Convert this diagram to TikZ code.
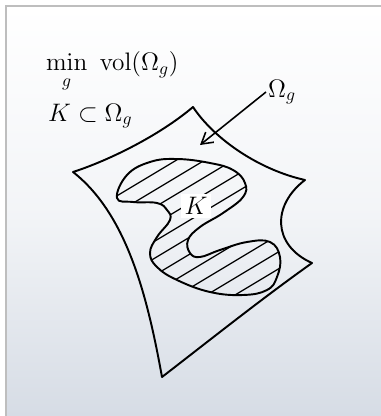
\documentclass[tikz,border=0pt]{standalone}
\usepackage{amsmath, amssymb}
\usepackage{xcolor}
\usepackage{tikz}
\usetikzlibrary{calc, arrows.meta, positioning}

\definecolor{paperlow}{RGB}{214,220,229}
\definecolor{paperframe}{RGB}{190,190,190}

\begin{document}
\begin{tikzpicture}[
    x=0.02cm, y=-0.02cm,
    ink/.style={draw=black, line width=1.1pt, line join=round, line cap=round},
    hatch/.style={draw=black, line width=0.7pt},
    note/.style={font=\Large, inner sep=1pt},
    arrow/.style={draw=black, line width=0.9pt, -{Straight Barb[length=2.2mm, width=2.6mm]}}
]
    % paper
    \useasboundingbox (0,0) rectangle (381,416);
    \shade [top color=white, bottom color=paperlow, middle color=white!70!paperlow] (6,6) rectangle (381,416);
    \draw [paperframe, line width=0.8pt] (381,6) -- (6,6) -- (6,416);

    % the set Omega_g
    \draw [ink] (73,172) .. controls (110,160) and (160,135) .. (193,107)
        .. controls (215,140) and (260,170) .. (305,180)
        .. controls (272,205) and (272,245) .. (312,263)
        .. controls (260,300) and (210,340) .. (162,377)
        .. controls (148,300) and (128,215) .. cycle;

    % the body K
    \def\kshape{plot[smooth cycle, tension=0.7] coordinates {
        (117,198) (127,175) (150,162) (177,159) (210,163) (233,170) (245,183)
        (243,197) (223,213) (200,227) (188,240) (190,253) (200,257) (220,250)
        (247,242) (270,242) (280,257) (277,277) (267,290) (243,295) (210,292)
        (177,280) (157,267) (150,253) (157,237) (170,220) (167,210) (157,203) (133,202)}}
    \begin{scope}
        \clip \kshape;
        \foreach \c in {232,249,...,470}
            \draw [hatch] (100,\c-60) -- (300,\c-180);
    \end{scope}
    \draw [ink] \kshape;
    \node [note, fill=white, inner sep=2pt] (body) at (196,206) {$K$};

    % labels
    \node [note, anchor=west] (omega) at (266,92) {$\Omega_g$};
    \coordinate (tip) at (200,145);
    \draw [arrow] (omega.west) -- (tip);

    \node [note, anchor=west] (goal) at (44,72) {$\min\limits_{g}\ \mathrm{vol}(\Omega_g)$};
    \node [note, anchor=west] (constr) at (46,116) {$K \subset \Omega_g$};
\end{tikzpicture}
\end{document}
